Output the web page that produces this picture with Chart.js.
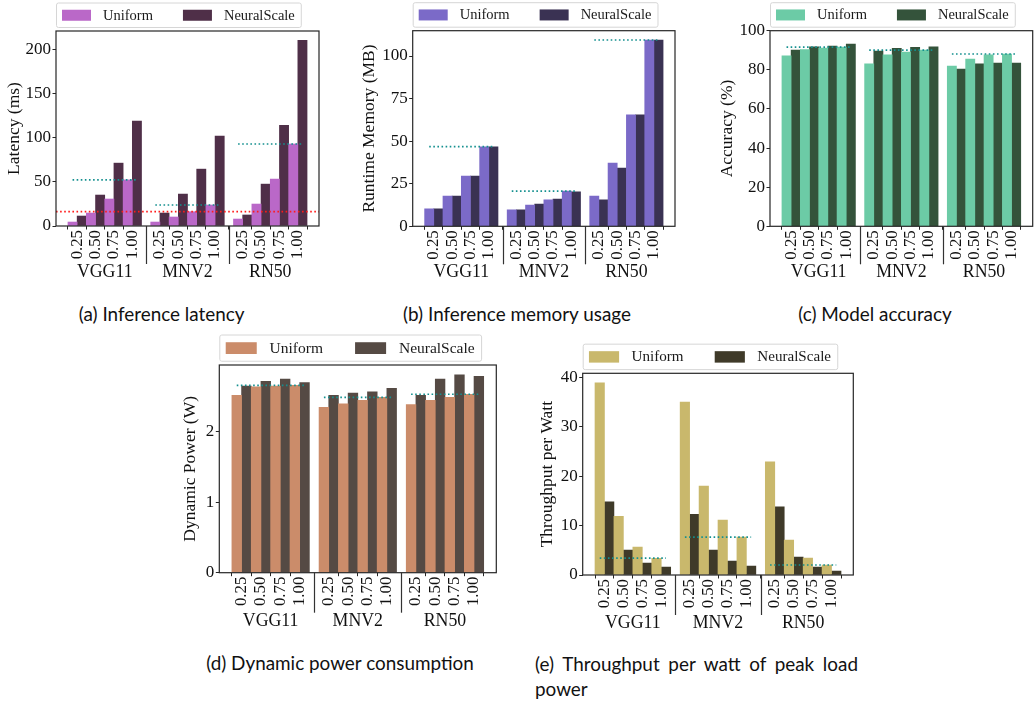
<!DOCTYPE html>
<html><head><meta charset="utf-8">
<script src="https://cdn.jsdelivr.net/npm/chart.js@4.4.0/dist/chart.umd.min.js"></script>
<style>
html,body{margin:0;padding:0;background:#fff;overflow:hidden;width:1034px;height:702px;}
.box{position:absolute;}
canvas{display:block;}
.cap{position:absolute;font-family:Lato,"Noto Sans",sans-serif;font-size:18.9px;color:#111;white-space:nowrap;}
.just{display:block;text-align:justify;text-align-last:justify;white-space:normal;}
</style></head><body>
<script>
// ---------- data ----------
const models = ['VGG11', 'MNV2', 'RN50'];
const widthLabels = ['0.25', '0.50', '0.75', '1.00'];
const seriesNames = ['Uniform', 'NeuralScale'];

// (a) latency (ms)
const latencyUniform = [4.5, 14.7, 30.6, 52.3,   4.5, 10.2, 16.2, 23.8,   7.9, 24.9, 53.2, 93.0];
const latencyNeural  = [11.3, 35.1, 71.3, 118.9, 14.7, 36.2, 64.5, 101.9, 12.5, 47.5, 114.3, 210.6];
const latencyBaseline = [52.3, 23.8, 93.0];
const latencyTarget = 16.2;
const latencyTicks = [0, 50, 100, 150, 200];

// (b) runtime memory (MB)
const memoryUniform = [10.2, 17.8, 29.5, 46.7,  9.6, 12.5, 15.5, 20.7,  17.8, 37.2, 65.4, 109.4];
const memoryNeural  = [10.2, 17.8, 29.5, 46.6,  9.6, 13.1, 16.0, 20.2,  15.5, 34.2, 65.4, 109.4];
const memoryBaseline = [46.8, 20.7, 109.4];
const memoryTicks = [0, 25, 50, 75, 100];

// (c) accuracy (%)
const accuracyUniform = [87.1, 90.3, 91.1, 91.6,  83.0, 87.6, 89.1, 90.1,  81.9, 85.5, 87.7, 88.1];
const accuracyNeural  = [90.1, 91.7, 92.2, 93.2,  89.6, 91.0, 91.5, 91.7,  80.4, 83.0, 83.5, 83.5];
const accuracyBaseline = [91.6, 90.1, 88.1];
const accuracyTicks = [0, 20, 40, 60, 80, 100];

// (d) dynamic power (W)
const powerUniform = [2.52, 2.64, 2.65, 2.66,  2.35, 2.40, 2.45, 2.49,  2.39, 2.45, 2.49, 2.535];
const powerNeural  = [2.65, 2.72, 2.75, 2.70,  2.52, 2.55, 2.57, 2.62,  2.52, 2.75, 2.81, 2.79];
const powerBaseline = [2.66, 2.49, 2.535];
const powerTicks = [0, 1, 2];

// (e) throughput per watt
const throughputUniform = [38.9, 11.9, 5.67, 3.40,  35.0, 18.0, 11.1, 7.69,  22.9, 7.08, 3.44, 2.02];
const throughputNeural  = [14.8, 5.06, 2.43, 1.62,  12.3, 5.06, 2.83, 1.82,  13.8, 3.64, 1.62, 0.81];
const throughputBaseline = [3.40, 7.69, 2.02];
const throughputTicks = [0, 10, 20, 30, 40];

// ---------- layout / style ----------
const SERIF = '"Liberation Serif","Times New Roman",serif';
const GROUP_GAP = 1.5;
const positions = [];
const tickLabels = [];
models.forEach((m, gi) => widthLabels.forEach((w, wi) => {
  positions.push(gi * (widthLabels.length - 1 + GROUP_GAP) + wi);
  tickLabels.push(w);
}));
const groupStart = gi => positions[gi * widthLabels.length];
const groupEnd = gi => positions[gi * widthLabels.length + widthLabels.length - 1];
const groupCenters = models.map((m, gi) => (groupStart(gi) + groupEnd(gi)) / 2);
const separators = models.slice(1).map((m, gi) => (groupEnd(gi) + groupStart(gi + 1)) / 2);
const X_MIN = positions[0] - 1.15, X_MAX = positions[positions.length - 1] + 1.15;

const specs = [
  {U: latencyUniform, N: latencyNeural, base: latencyBaseline, target: latencyTarget, yTicks: latencyTicks,
   yTitle: 'Latency (ms)', colors: ['#BA68C8', '#4F2F48'], axes: {l: 56, r: 319, t: 31, b: 226}, titleX: 14,
   ls: 1, row: 0, caption: '(a) Inference latency', capX: 161.7, capY: 313},
  {U: memoryUniform, N: memoryNeural, base: memoryBaseline, yTicks: memoryTicks,
   yTitle: 'Runtime Memory (MB)', colors: ['#7B6AC8', '#3A3253'], axes: {l: 412.7, r: 675, t: 30.7, b: 226.3}, titleX: 369.2,
   ls: 1, row: 0, caption: '(b) Inference memory usage', capX: 517, capY: 313},
  {U: accuracyUniform, N: accuracyNeural, base: accuracyBaseline, yTicks: accuracyTicks, yMax: 100,
   yTitle: 'Accuracy (%)', colors: ['#6CCBA6', '#34533B'], axes: {l: 770, r: 1032.7, t: 30.7, b: 226.3}, titleX: 727.5,
   ls: 1, row: 0, caption: '(c) Model accuracy', capX: 875, capY: 313},
  {U: powerUniform, N: powerNeural, base: powerBaseline, yTicks: powerTicks,
   yTitle: 'Dynamic Power (W)', colors: ['#CB8C6A', '#554A44'], axes: {l: 219.3, r: 496.3, t: 365, b: 572.7}, titleX: 190.8,
   ls: 1.07, row: 1, caption: '(d) Dynamic power consumption', capX: 340, capY: 662},
  {U: throughputUniform, N: throughputNeural, base: throughputBaseline, yTicks: throughputTicks,
   yTitle: 'Throughput per Watt', colors: ['#C9B86C', '#3F3A29'], axes: {l: 582.7, r: 853.3, t: 373.3, b: 575}, titleX: 547.5,
   ls: 1.04, row: 1, captionLines: ['(e) Throughput per watt of peak load', 'power'], capLeft: 535, capWidth: 323, capY: 663}
];

const XH = 60;
const TITLE_SIZE = 17.5;

function makeChart(s) {
  const cl = Math.floor(s.titleX - 16);
  const ct = Math.floor(s.axes.t - 34);
  const cr = Math.ceil(s.axes.r + 3);
  const cb = Math.ceil(s.axes.b + 66);
  const W = cr - cl, H = cb - ct;
  const div = document.createElement('div');
  div.className = 'box';
  div.style.left = cl + 'px'; div.style.top = ct + 'px';
  const cv = document.createElement('canvas');
  cv.width = W; cv.height = H; cv.style.width = W + 'px'; cv.style.height = H + 'px';
  div.appendChild(cv);
  document.body.appendChild(div);

  const allVals = s.U.concat(s.N);
  const yMax = s.yMax !== undefined ? s.yMax : Math.max(...allVals) * 1.05;

  const datasets = [];
  s.base.forEach((v, gi) => {
    datasets.push({type: 'line', data: [{x: groupStart(gi) - 0.25, y: v}, {x: groupEnd(gi) + 0.25, y: v}],
      borderColor: '#14908f', borderWidth: 1.7, borderDash: [1.6, 2.5], pointRadius: 0, fill: false, order: 0});
  });
  if (s.target !== undefined) {
    datasets.push({type: 'line', data: [{x: X_MIN, y: s.target}, {x: X_MAX, y: s.target}],
      borderColor: '#ff1a1a', borderWidth: 1.7, borderDash: [1.6, 2.5], pointRadius: 0, fill: false, order: 0});
  }
  [s.U, s.N].forEach((arr, k) => {
    datasets.push({type: 'bar', label: seriesNames[k], data: arr.map((v, i) => ({x: positions[i], y: v})),
      backgroundColor: s.colors[k], borderWidth: 0, barPercentage: 1, categoryPercentage: 1, order: 1});
  });

  const row = s.row;
  const decor = {
    id: 'decor',
    afterDatasetsDraw(chart) {
      const {ctx, chartArea: a} = chart;
      ctx.save();
      ctx.strokeStyle = '#262626'; ctx.lineWidth = 1.2;
      ctx.strokeRect(a.left, a.top, a.right - a.left, a.bottom - a.top);
      ctx.restore();
    },
    afterDraw(chart) {
      const {ctx, chartArea: a, scales: {x}} = chart;
      ctx.save();
      // group separators
      ctx.strokeStyle = '#333'; ctx.lineWidth = 1.2;
      separators.forEach(v => {
        const px = Math.round(x.getPixelForValue(v)) + 0.5;
        ctx.beginPath(); ctx.moveTo(px, a.bottom); ctx.lineTo(px, a.bottom + (row ? 40 : 38)); ctx.stroke();
      });
      // group labels
      ctx.fillStyle = '#111';
      ctx.font = '17.8px ' + SERIF;
      ctx.textAlign = 'center'; ctx.textBaseline = 'middle';
      models.forEach((m, gi) => ctx.fillText(m, x.getPixelForValue(groupCenters[gi]), a.bottom + (row ? 48.5 : 46)));
      // legend
      const ls = s.ls;
      const fs = 14.5 * ls;
      ctx.font = fs + 'px ' + SERIF;
      const bars = chart.data.datasets.filter(d => d.type === 'bar');
      const h = 24.5 * ls;
      const top = a.top - 4 * ls - h;
      const pad = 6 * ls, bw = 29 * ls, bh = 11 * ls, tg = 12 * ls, ig = 30 * ls;
      let total = pad;
      bars.forEach((d, i) => { total += bw + tg + ctx.measureText(d.label).width + (i < bars.length - 1 ? ig : 0); });
      total += pad;
      ctx.fillStyle = 'rgba(255,255,255,0.85)';
      ctx.strokeStyle = '#d6d6d6'; ctx.lineWidth = 1;
      ctx.beginPath();
      if (ctx.roundRect) ctx.roundRect(a.left + 0.5, top + 0.5, total, h, 2); else ctx.rect(a.left + 0.5, top + 0.5, total, h);
      ctx.fill(); ctx.stroke();
      let cx = a.left + pad;
      const cy = top + h / 2 + 0.5;
      ctx.textAlign = 'left'; ctx.textBaseline = 'middle';
      bars.forEach(d => {
        ctx.fillStyle = d.backgroundColor;
        ctx.fillRect(cx, cy - bh / 2, bw, bh);
        cx += bw + tg;
        ctx.fillStyle = '#1a1a1a';
        ctx.fillText(d.label, cx, cy + 0.5);
        cx += ctx.measureText(d.label).width + ig;
      });
      ctx.restore();
    }
  };

  new Chart(cv, {
    type: 'bar',
    data: {datasets},
    options: {
      responsive: false, animation: false, devicePixelRatio: 1,
      layout: {padding: {left: 0, top: s.axes.t - ct, right: cr - s.axes.r, bottom: cb - s.axes.b - XH}},
      plugins: {legend: {display: false}, tooltip: {enabled: false}},
      scales: {
        x: {
          type: 'linear', min: X_MIN, max: X_MAX, offset: false,
          afterBuildTicks: sc => { sc.ticks = positions.map(v => ({value: v})); },
          afterFit: sc => { sc.height = XH; },
          ticks: {callback: (v, i) => tickLabels[i], minRotation: 90, maxRotation: 90, autoSkip: false,
                  font: {family: SERIF, size: 16.8}, color: '#111', padding: 0.5},
          grid: {display: true, drawOnChartArea: false, drawTicks: true, tickLength: 3.5, color: '#262626', lineWidth: 1},
          border: {display: false}
        },
        y: {
          type: 'linear', min: 0, max: yMax,
          afterBuildTicks: sc => { sc.ticks = s.yTicks.map(v => ({value: v})); },
          afterFit: sc => { sc.width = s.axes.l - cl; },
          ticks: {callback: v => String(v), font: {family: SERIF, size: 17}, color: '#111', padding: 1.5},
          grid: {display: true, drawOnChartArea: false, drawTicks: true, tickLength: 3.5, color: '#262626', lineWidth: 1},
          border: {display: false},
          title: {display: true, text: s.yTitle, color: '#111', font: {family: SERIF, size: TITLE_SIZE},
                  padding: {top: (s.titleX - cl) - TITLE_SIZE * 1.2 / 2, bottom: 0}}
        }
      }
    },
    plugins: [decor]
  });

  const cap = document.createElement('div');
  cap.className = 'cap';
  if (s.captionLines) {
    cap.style.left = s.capLeft + 'px';
    cap.style.top = (s.capY - 12.5) + 'px';
    cap.style.lineHeight = '25px';
    const l1 = document.createElement('span');
    l1.className = 'just';
    l1.style.width = s.capWidth + 'px';
    l1.textContent = s.captionLines[0];
    const l2 = document.createElement('span');
    l2.style.display = 'block';
    l2.textContent = s.captionLines[1];
    cap.appendChild(l1); cap.appendChild(l2);
  } else {
    cap.textContent = s.caption;
    cap.style.left = s.capX + 'px';
    cap.style.top = s.capY + 'px';
    cap.style.transform = 'translate(-50%,-50%)';
  }
  document.body.appendChild(cap);
}

specs.forEach(makeChart);
</script>
</body></html>
